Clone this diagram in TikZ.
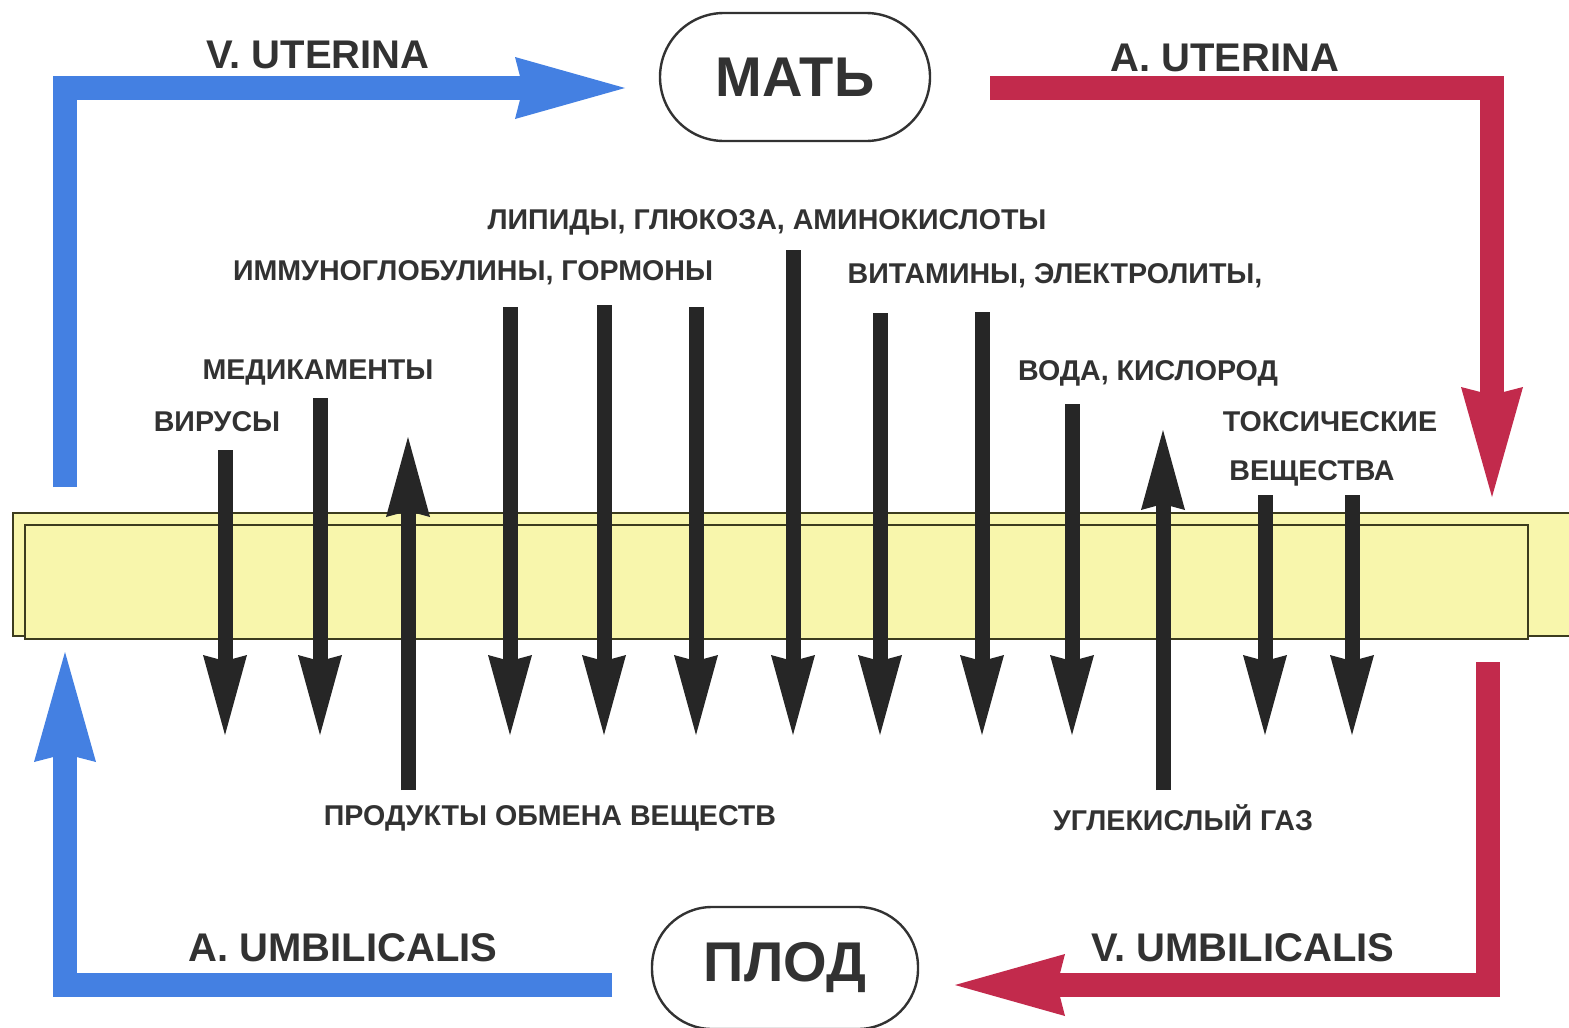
\documentclass[tikz,border=0pt]{standalone}
\usepackage{fontspec}
\setmainfont{Liberation Sans}
\usetikzlibrary{arrows.meta}
\definecolor{vblue}{RGB}{68,128,226}
\definecolor{ared}{RGB}{194,42,76}
\definecolor{ink}{RGB}{38,38,38}
\definecolor{txt}{RGB}{50,50,50}
\definecolor{memb}{RGB}{248,246,172}
\definecolor{membline}{RGB}{60,60,30}
\begin{document}
\begin{tikzpicture}[x=0.5pt,y=-0.5pt,
  lbl/.style={text=txt,font=\bfseries\fontsize{14.3}{16}\selectfont,inner sep=0pt},
  vessel/.style={text=txt,font=\bfseries\fontsize{20}{22}\selectfont,inner sep=0pt},
  organ/.style={draw=txt,line width=1.2pt,font=\bfseries\fontsize{28}{30}\selectfont,text=txt,inner sep=0pt},
  bigtip/.style={-{Stealth[length=55pt,width=31pt,inset=4pt,line width=0pt]}},
  blueflow/.style={draw=vblue,line width=12pt,line join=miter},
  redflow/.style={draw=ared,line width=12pt,line join=miter},
  flux/.style={draw=ink,line width=7.5pt,-{Stealth[length=40pt,width=22pt,inset=3pt,line width=0pt]}},
  membrane/.style={draw=membline,fill=memb,line width=1pt}
]
\useasboundingbox (0,0) rectangle (1569,1028);
\fill[white] (0,0) rectangle (1569,1028);

% membrane
\draw[membrane] (13,513) rectangle (1585,636);
\draw[membrane] (25,525) rectangle (1528,639);

% organs
\node[organ,minimum width=135pt,minimum height=64pt,rounded corners=32pt] (mat) at (795,77) {МАТЬ};
\node[organ,minimum width=133pt,minimum height=61pt,rounded corners=30pt] (plod) at (785,968) {ПЛОД};

% vessels
\coordinate (vu0) at (65,487);
\coordinate (vu1) at (65,88);
\coordinate (vu2) at (625,88);
\draw[blueflow,bigtip] (vu0) -- (vu1) -- (vu2);

\coordinate (au0) at (990,88);
\coordinate (au1) at (1492,88);
\coordinate (au2) at (1492,497);
\draw[redflow,bigtip] (au0) -- (au1) -- (au2);

\coordinate (vm0) at (1488,662);
\coordinate (vm1) at (1488,985);
\coordinate (vm2) at (955,985);
\draw[redflow,bigtip] (vm0) -- (vm1) -- (vm2);

\coordinate (am0) at (612,985);
\coordinate (am1) at (65,985);
\coordinate (am2) at (65,652);
\draw[blueflow,bigtip] (am0) -- (am1) -- (am2);

\node[vessel] (tvu) at (318,55) {V. UTERINA};
\node[vessel] (tau) at (1225,58) {A. UTERINA};
\node[vessel] (tam) at (343,948) {A. UMBILICALIS};
\node[vessel] (tvm) at (1243,948) {V. UMBILICALIS};

% fluxes
\foreach \n/\x/\t in {d1/225/450, d2/320/398, d4/510/307, d5/604/305, d6/696/307, d7/793/250, d8/880/313, d9/982/312, d10/1072/404, d12/1265/495, d13/1352/495}{
  \coordinate (\n a) at (\x,\t);
  \coordinate (\n b) at (\x,735);
  \draw[flux] (\n a) -- (\n b);
}
\coordinate (u1a) at (408,790);
\coordinate (u1b) at (408,437);
\draw[flux] (u1a) -- (u1b);
\coordinate (u2a) at (1163,790);
\coordinate (u2b) at (1163,430);
\draw[flux] (u2a) -- (u2b);

% labels
\node[lbl] (l1) at (767,222) {ЛИПИДЫ, ГЛЮКОЗА, АМИНОКИСЛОТЫ};
\node[lbl] (l2) at (473,273) {ИММУНОГЛОБУЛИНЫ, ГОРМОНЫ};
\node[lbl] (l3) at (1055,276) {ВИТАМИНЫ, ЭЛЕКТРОЛИТЫ,};
\node[lbl] (l4) at (318,373) {МЕДИКАМЕНТЫ};
\node[lbl] (l5) at (217,422) {ВИРУСЫ};
\node[lbl] (l6) at (1148,373) {ВОДА, КИСЛОРОД};
\node[lbl] (l7) at (1330,422) {ТОКСИЧЕСКИЕ};
\node[lbl] (l8) at (1312,473) {ВЕЩЕСТВА};
\node[lbl] (l9) at (550,818) {ПРОДУКТЫ ОБМЕНА ВЕЩЕСТВ};
\node[lbl] (l10) at (1183,818) {УГЛЕКИСЛЫЙ ГАЗ};
\end{tikzpicture}
\end{document}
